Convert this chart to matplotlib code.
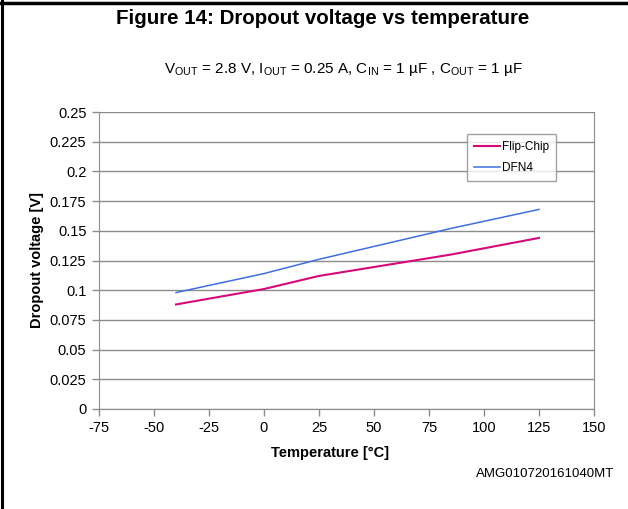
import matplotlib
matplotlib.use("Agg")
import matplotlib.pyplot as plt
from matplotlib.lines import Line2D

# values
temperature = [-40, 0, 25, 85, 125]
flip_chip = [0.088, 0.101, 0.112, 0.130, 0.144]
dfn4 = [0.098, 0.114, 0.126, 0.152, 0.168]

x_ticks = [-75, -50, -25, 0, 25, 50, 75, 100, 125, 150]
y_ticks = [0, 0.025, 0.05, 0.075, 0.1, 0.125, 0.15, 0.175, 0.2, 0.225, 0.25]
y_tick_labels = ["0", "0.025", "0.05", "0.075", "0.1", "0.125", "0.15", "0.175", "0.2", "0.225", "0.25"]

plt.rcParams["font.family"] = ["Liberation Sans", "DejaVu Sans"]
plt.rcParams["mathtext.fontset"] = "custom"
plt.rcParams["mathtext.rm"] = "Liberation Sans"
plt.rcParams["mathtext.it"] = "Liberation Sans"
plt.rcParams["axes.unicode_minus"] = False

GRID = "#8c8c8c"

fig = plt.figure(figsize=(6.28, 5.09), dpi=100)
ax = fig.add_axes([99 / 628, 1 - 409 / 509, 495 / 628, 297 / 509])

ax.plot(temperature, flip_chip, color="#d6087a", lw=1.5, label="Flip-Chip")
ax.plot(temperature, dfn4, color="#3f6fdf", lw=1.1, label="DFN4")

ax.set_xlim(-75, 150)
ax.set_ylim(0, 0.25)
ax.set_xticks(x_ticks)
ax.set_yticks(y_ticks)
ax.set_yticklabels(y_tick_labels)
ax.tick_params(axis="both", labelsize=10.5, color=GRID, length=5, width=1, pad=4)
ax.grid(axis="y", color=GRID, lw=1)
ax.set_axisbelow(True)
for side in ["left", "bottom", "right"]:
    ax.spines[side].set_color(GRID)
ax.spines["top"].set_visible(False)

ax.set_ylabel("Dropout voltage [V]", fontsize=10.5, fontweight="bold", labelpad=4)

leg = ax.legend(loc="upper left", bbox_to_anchor=(0.743, 0.925), fontsize=8.5, frameon=True,
                fancybox=False, handlelength=2.2, handletextpad=0.2, borderpad=0.6,
                labelspacing=0.75, borderaxespad=0)
leg.get_frame().set_edgecolor(GRID)
leg.get_frame().set_linewidth(1)

fig.text(323 / 628, 1 - 18 / 509, "Figure 14: Dropout voltage vs temperature", ha="center", va="center",
         fontsize=14.8, fontweight="bold")
fig.text(343 / 628, 1 - 70 / 509,
         r"V$_{\mathrm{OUT}}$ = 2.8 V, I$_{\mathrm{OUT}}$ = 0.25 A, C$_{\mathrm{IN}}$ = 1 µF , C$_{\mathrm{OUT}}$ = 1 µF",
         ha="center", va="center", fontsize=11)
fig.text(330 / 628, 1 - 453 / 509, "Temperature [°C]", ha="center", va="center",
         fontsize=10.5, fontweight="bold")
fig.text(614 / 628, 1 - 474 / 509, "AMG010720161040MT", ha="right", va="center", fontsize=9.5)

# partial black frame (left and top edges)
fig.add_artist(Line2D([0.003, 0.003], [0, 1], transform=fig.transFigure, color="black", lw=2.2))
fig.add_artist(Line2D([0, 1], [0.995, 0.995], transform=fig.transFigure, color="black", lw=2.5))

fig.savefig("out.png", dpi=100)
